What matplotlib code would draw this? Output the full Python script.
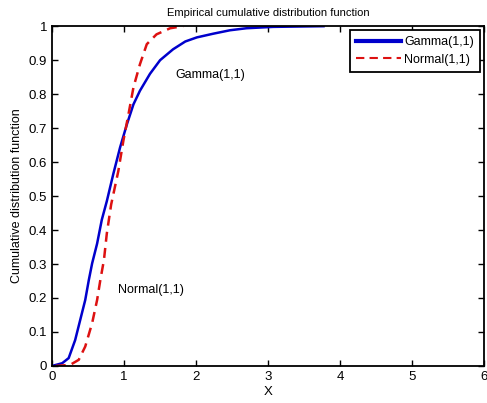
import matplotlib.pyplot as plt
import matplotlib.ticker as mticker

# empirical CDF points of the two samples
gamma_x = [0.0, 0.14, 0.23, 0.32, 0.39, 0.46, 0.51, 0.556, 0.625, 0.69, 0.76, 0.85,
           0.944, 1.04, 1.13, 1.22, 1.36, 1.5, 1.68, 1.85, 2.01, 2.24, 2.47, 2.7,
           3.07, 3.77]
gamma_F = [0.0, 0.008, 0.023, 0.076, 0.135, 0.194, 0.253, 0.302, 0.36, 0.43, 0.485, 0.565,
           0.643, 0.712, 0.77, 0.81, 0.86, 0.90, 0.932, 0.955, 0.967, 0.978, 0.988, 0.994,
           0.998, 1.0]

normal_x = [0.05, 0.25, 0.37, 0.46, 0.556, 0.625, 0.67, 0.72, 0.76, 0.82, 0.92, 0.99,
            1.06, 1.13, 1.22, 1.315, 1.45, 1.64, 1.82]
normal_F = [0.0, 0.003, 0.018, 0.057, 0.126, 0.194, 0.253, 0.312, 0.39, 0.475, 0.574, 0.663,
            0.74, 0.82, 0.888, 0.947, 0.976, 0.994, 1.0]

labels = ['Gamma(1,1)', 'Normal(1,1)']

plt.rcParams['font.family'] = ['Liberation Sans', 'DejaVu Sans']

fig = plt.figure(figsize=(4.87, 4.03), dpi=100)
ax = fig.add_axes([0.107, 0.092, 0.887, 0.843])

ax.plot(gamma_x, gamma_F, color='#0000cc', lw=1.8, label=labels[0])
ax.plot(normal_x, normal_F, color='#dd1111', lw=1.8, ls=(0, (4, 2.5)), label=labels[1])

ax.set_xlim(0, 6)
ax.set_ylim(0, 1)
ax.xaxis.set_major_locator(mticker.MultipleLocator(1))
ax.yaxis.set_major_locator(mticker.MultipleLocator(0.1))
ax.yaxis.set_major_formatter(mticker.FuncFormatter(lambda v, p: '%g' % round(v, 1)))
ax.tick_params(direction='in', top=True, right=True, length=4, width=1, labelsize=9.5)
for s in ax.spines.values():
    s.set_linewidth(1.3)

ax.text(1.71, 0.856, labels[0], fontsize=9, va='center', ha='left')
ax.text(0.92, 0.224, labels[1], fontsize=9, va='center', ha='left')

ax.set_title('Empirical cumulative distribution function', fontsize=8, pad=7)
ax.set_xlabel('X', fontsize=9.5, labelpad=2)
ax.set_ylabel('Cumulative distribution function', fontsize=9, labelpad=4)

leg = ax.legend(loc='upper right', fontsize=9, fancybox=False, edgecolor='black',
                framealpha=1, borderaxespad=0.3, handlelength=3.6, handletextpad=0.25,
                borderpad=0.5, labelspacing=0.45)
leg.get_frame().set_linewidth(1.3)
leg.get_lines()[0].set_linewidth(3)
leg.get_lines()[1].set_linewidth(1.5)

fig.savefig('out.png', dpi=100)
